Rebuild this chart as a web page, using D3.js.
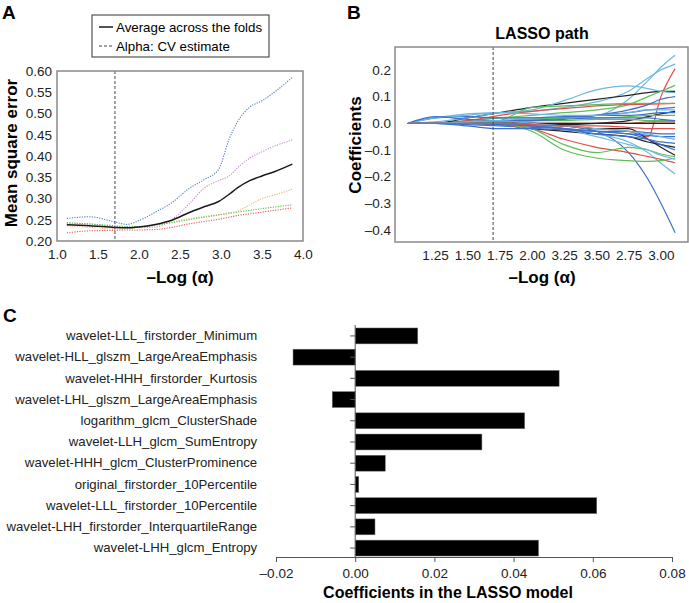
<!DOCTYPE html>
<html>
<head>
<meta charset="utf-8">
<script src="https://cdn.jsdelivr.net/npm/d3@7"></script>
<style>
  body { margin: 0; background: #fff; }
  svg { display: block; font-family: "Liberation Sans", Arial, sans-serif; }
</style>
</head>
<body>
<svg id="chart" width="689" height="603"></svg>
<script>
// ---- panel A: cross-validation error per fold ----
const aX = [1.12, 1.4, 1.7, 1.85, 2.0, 2.2, 2.4, 2.6, 2.8, 2.97, 3.1, 3.2, 3.35, 3.5, 3.65, 3.87];
const aMean   = [0.238, 0.236, 0.232, 0.231, 0.233, 0.239, 0.249, 0.266, 0.281, 0.293, 0.31, 0.325, 0.342, 0.353, 0.363, 0.381];
const aBlue   = [0.253, 0.257, 0.245, 0.239, 0.248, 0.268, 0.29, 0.322, 0.345, 0.368, 0.44, 0.48, 0.515, 0.53, 0.55, 0.585];
const aPurple = [0.242, 0.24, 0.234, 0.232, 0.232, 0.233, 0.25, 0.285, 0.325, 0.342, 0.353, 0.372, 0.395, 0.41, 0.423, 0.438];
const aOrange = [0.236, 0.232, 0.228, 0.229, 0.232, 0.237, 0.245, 0.252, 0.258, 0.262, 0.266, 0.27, 0.285, 0.3, 0.308, 0.322];
const aGreen  = [0.243, 0.24, 0.236, 0.234, 0.234, 0.238, 0.243, 0.25, 0.256, 0.261, 0.265, 0.268, 0.272, 0.276, 0.28, 0.285];
const aRed    = [0.219, 0.224, 0.225, 0.226, 0.226, 0.227, 0.232, 0.24, 0.246, 0.251, 0.256, 0.26, 0.264, 0.268, 0.272, 0.278];
const aFolds = [aBlue, aPurple, aOrange, aGreen, aRed];
const aFoldColors = ["#4f78cf", "#c58ad0", "#f0b46c", "#5cbf4f", "#e2605a"];
const aAlpha = 1.707;
const aYTicks = [0.2, 0.25, 0.3, 0.35, 0.4, 0.45, 0.5, 0.55, 0.6];
const aXTicks = [1.0, 1.5, 2.0, 2.5, 3.0, 3.5, 4.0];

// ---- panel B: LASSO coefficient paths ----
const bX = [1.04, 1.25, 1.5, 1.75, 2.0, 2.25, 2.5, 2.75, 2.9, 3.0, 3.11];
const bTicks = [1.25, 1.5, 1.75, 2.0, 2.25, 2.5, 2.75, 3.0];
const bTickLabels = ["1.25", "1.50", "1.75", "2.00", "3.25", "3.50", "2.75", "3.00"];
const bYTicks = [0.2, 0.1, 0.0, -0.1, -0.2, -0.3, -0.4];
const bAlpha = 1.70;
const bColors = [
  "#6bb8e0", "#6bb8e0", "#e0504a", "#5cbf5c", "#222222", "#6bb8e0", "#e0504a", "#5cbf5c",
  "#3d6fcc", "#3d6fcc", "#222222", "#3d6fcc", "#5cbf5c", "#5cbf5c", "#e0504a", "#222222",
  "#222222", "#222222", "#3d6fcc", "#3d6fcc", "#6bb8e0", "#e0504a", "#5cbf5c", "#5cbf5c",
  "#6bb8e0", "#3d6fcc", "#6bb8e0", "#3d6fcc", "#3d6fcc", "#3d6fcc", "#6bb8e0", "#e0504a"
];
const bPaths = [
  [0, 0, 0.01, 0.02, 0.02, 0.025, 0.03, 0.09, 0.16, 0.21, 0.255],
  [0, 0.02, 0.035, 0.04, 0.045, 0.06, 0.08, 0.12, 0.17, 0.2, 0.222],
  [0, 0, 0, -0.005, -0.01, -0.01, -0.02, -0.03, -0.05, 0.1, 0.205],
  [0, 0, 0.01, 0.02, 0.03, 0.04, 0.05, 0.07, 0.1, 0.12, 0.142],
  [0, 0, 0.02, 0.04, 0.06, 0.075, 0.09, 0.105, 0.115, 0.12, 0.12],
  [0, 0.005, 0.02, 0.04, 0.05, 0.085, 0.125, 0.14, 0.13, 0.12, 0.115],
  [0, 0, 0.01, 0.03, 0.045, 0.055, 0.065, 0.07, 0.072, 0.073, 0.075],
  [0, 0, 0, 0.01, 0.06, 0.065, 0.07, 0.075, 0.075, 0.075, 0.075],
  [0, 0, 0, 0.005, 0.01, 0.02, 0.03, 0.05, 0.07, 0.09, 0.1],
  [0, 0, 0.005, 0.01, 0.015, 0.02, 0.03, 0.04, 0.05, 0.055, 0.06],
  [0, 0, 0, 0, 0, -0.005, 0, 0.01, 0.025, 0.035, 0.045],
  [0, 0.02, 0.025, 0.02, 0.02, 0.025, 0.03, 0.03, 0.035, 0.04, 0.04],
  [0, 0, 0.005, 0.01, 0.015, 0.02, 0.02, 0.025, 0.03, 0.03, 0.03],
  [0, 0, 0, 0.005, 0.01, 0.01, 0.015, 0.015, 0.01, 0.01, 0.01],
  [0, 0, 0, 0, 0, 0, 0, 0, 0.005, 0.005, 0.005],
  [0, 0, 0, 0, 0, 0, 0, 0, 0, 0, 0],
  [0, 0, 0, 0, 0, -0.01, -0.02, -0.02, -0.06, -0.09, -0.12],
  [0, 0, 0, -0.005, -0.02, -0.03, -0.04, -0.05, -0.07, -0.08, -0.09],
  [0, 0, -0.005, -0.01, -0.015, -0.02, -0.03, -0.04, -0.06, -0.08, -0.1],
  [0, 0, 0, 0, -0.005, -0.01, -0.03, -0.11, -0.21, -0.3, -0.41],
  [0, 0, 0, -0.005, -0.01, -0.02, -0.04, -0.07, -0.11, -0.15, -0.19],
  [0, 0, 0, -0.005, -0.02, -0.06, -0.09, -0.11, -0.125, -0.135, -0.148],
  [0, 0, 0, 0, -0.03, -0.1, -0.13, -0.14, -0.143, -0.14, -0.13],
  [0, 0, 0, 0, -0.02, -0.08, -0.11, -0.09, -0.1, -0.115, -0.125],
  [0, 0, 0, 0, -0.005, -0.02, -0.05, -0.08, -0.1, -0.12, -0.135],
  [0, 0, -0.01, -0.02, -0.02, -0.025, -0.03, -0.03, -0.035, -0.04, -0.04],
  [0, 0.02, 0.03, 0.04, 0.035, 0.03, 0.03, 0.04, 0.05, 0.05, 0.05],
  [0, 0.025, 0.015, 0.01, 0.01, 0.015, 0.02, 0.02, 0.02, 0.015, 0.01],
  [0, 0, 0, -0.005, -0.01, -0.02, -0.03, -0.04, -0.045, -0.05, -0.05],
  [0, 0, 0, 0, -0.01, -0.02, -0.04, -0.05, -0.06, -0.07, -0.075],
  [0, 0, 0.005, 0.01, 0.0, -0.01, -0.02, -0.03, -0.04, -0.05, -0.06],
  [0, 0, 0, 0, -0.005, -0.01, -0.01, -0.015, -0.02, -0.02, -0.02]
];

// ---- panel C: selected features ----
const cFeatures = [
  "wavelet-LLL_firstorder_Minimum",
  "wavelet-HLL_glszm_LargeAreaEmphasis",
  "wavelet-HHH_firstorder_Kurtosis",
  "wavelet-LHL_glszm_LargeAreaEmphasis",
  "logarithm_glcm_ClusterShade",
  "wavelet-LLH_glcm_SumEntropy",
  "wavelet-HHH_glcm_ClusterProminence",
  "original_firstorder_10Percentile",
  "wavelet-LLL_firstorder_10Percentile",
  "wavelet-LHH_firstorder_InterquartileRange",
  "wavelet-LHH_glcm_Entropy"
];
const cCoefs = [0.0158, -0.0157, 0.0515, -0.0058, 0.0428, 0.032, 0.0076, 0.0009, 0.061, 0.005, 0.0463];
const cTicks = [-0.02, 0.0, 0.02, 0.04, 0.06, 0.08];

const svg = d3.select("#chart");
const tickColor = "#222";
const frameColor = "#8a8a8a";

const styleTicks = (g, size) => {
  g.selectAll("text").attr("font-size", size).attr("fill", tickColor);
};

// panel letters
[["A", 2, 19], ["B", 347, 19], ["C", 3, 322]].forEach(([t, x, y]) => {
  svg.append("text").attr("x", x).attr("y", y).attr("font-size", 19)
    .attr("font-weight", "bold").text(t);
});

// ================= Panel A =================
{
  const left = 57, right = 303, top = 71, bottom = 241;
  const x = d3.scaleLinear().domain([1, 4]).range([left, right]);
  const y = d3.scaleLinear().domain([0.2, 0.6]).range([bottom, top]);
  const g = svg.append("g");

  g.append("g").attr("transform", `translate(${left},0)`)
    .call(d3.axisLeft(y).tickValues(aYTicks).tickSize(0).tickPadding(5).tickFormat(d3.format(".2f")))
    .call(a => a.select(".domain").remove())
    .call(a => styleTicks(a, 13.5));
  g.append("g").attr("transform", `translate(0,${bottom})`)
    .call(d3.axisBottom(x).tickValues(aXTicks).tickSize(0).tickPadding(8).tickFormat(d3.format(".1f")))
    .call(a => a.select(".domain").remove())
    .call(a => styleTicks(a, 13.5));

  const line = d3.line().x((d, i) => x(aX[i])).y(d => y(d)).curve(d3.curveMonotoneX);
  aFolds.forEach((s, k) => {
    g.append("path").attr("d", line(s)).attr("fill", "none")
      .attr("stroke", aFoldColors[k]).attr("stroke-width", 1.1).attr("stroke-dasharray", "1.2,1.3");
  });
  g.append("path").attr("d", line(aMean)).attr("fill", "none")
    .attr("stroke", "#1a1a1a").attr("stroke-width", 1.5);

  g.append("line").attr("x1", x(aAlpha)).attr("x2", x(aAlpha)).attr("y1", top).attr("y2", bottom)
    .attr("stroke", "#444").attr("stroke-width", 1).attr("stroke-dasharray", "3,2");

  g.append("rect").attr("x", left).attr("y", top).attr("width", right - left).attr("height", bottom - top)
    .attr("fill", "none").attr("stroke", frameColor).attr("stroke-width", 1.5);

  g.append("text").attr("x", (left + right) / 2).attr("y", 283).attr("text-anchor", "middle")
    .attr("font-size", 17).attr("font-weight", "bold").text("\u2013Log (\u03b1)");
  g.append("text").attr("transform", `translate(17,${(top + bottom) / 2 - 3}) rotate(-90)`)
    .attr("text-anchor", "middle").attr("font-size", 17).attr("font-weight", "bold").text("Mean square error");

  // legend
  const lg = g.append("g");
  lg.append("rect").attr("x", 92).attr("y", 15).attr("width", 177).attr("height", 42)
    .attr("fill", "#fff").attr("stroke", "#333").attr("stroke-width", 1);
  lg.append("line").attr("x1", 99).attr("x2", 113).attr("y1", 27).attr("y2", 27)
    .attr("stroke", "#1a1a1a").attr("stroke-width", 1.5);
  lg.append("line").attr("x1", 99).attr("x2", 113).attr("y1", 46).attr("y2", 46)
    .attr("stroke", "#444").attr("stroke-width", 1).attr("stroke-dasharray", "3,2");
  lg.append("text").attr("x", 116).attr("y", 32).attr("font-size", 13.3).text("Average across the folds");
  lg.append("text").attr("x", 116).attr("y", 51).attr("font-size", 13.3).text("Alpha: CV estimate");
}

// ================= Panel B =================
{
  const left = 395, right = 688, top = 47, bottom = 242;
  const x = d3.scaleLinear().domain([0.94, 3.21]).range([left, right]);
  const y = d3.scaleLinear().domain([-0.445, 0.286]).range([bottom, top]);
  const g = svg.append("g");

  g.append("g").attr("transform", `translate(${left},0)`)
    .call(d3.axisLeft(y).tickValues(bYTicks).tickSize(0).tickPadding(4)
      .tickFormat(d => (d < 0 ? "\u2013" : "") + d3.format(".1f")(Math.abs(d))))
    .call(a => a.select(".domain").remove())
    .call(a => styleTicks(a, 13.5));
  g.append("g").attr("transform", `translate(0,${bottom})`)
    .call(d3.axisBottom(x).tickValues(bTicks).tickSize(0).tickPadding(8)
      .tickFormat((d, i) => bTickLabels[i]))
    .call(a => a.select(".domain").remove())
    .call(a => styleTicks(a, 13.5));

  const line = d3.line().x((d, i) => x(bX[i])).y(d => y(d)).curve(d3.curveMonotoneX);
  g.append("g").selectAll("path").data(bPaths).join("path")
    .attr("d", d => line(d)).attr("fill", "none")
    .attr("stroke", (d, i) => bColors[i]).attr("stroke-width", 1.2);

  g.append("line").attr("x1", x(bAlpha)).attr("x2", x(bAlpha)).attr("y1", top).attr("y2", bottom)
    .attr("stroke", "#444").attr("stroke-width", 1).attr("stroke-dasharray", "3,2");

  g.append("rect").attr("x", left).attr("y", top).attr("width", right - left).attr("height", bottom - top)
    .attr("fill", "none").attr("stroke", frameColor).attr("stroke-width", 1.5);

  g.append("text").attr("x", 542).attr("y", 39).attr("text-anchor", "middle")
    .attr("font-size", 16).attr("font-weight", "bold").text("LASSO path");
  g.append("text").attr("x", 542).attr("y", 283).attr("text-anchor", "middle")
    .attr("font-size", 17).attr("font-weight", "bold").text("\u2013Log (\u03b1)");
  g.append("text").attr("transform", `translate(361,145) rotate(-90)`)
    .attr("text-anchor", "middle").attr("font-size", 17).attr("font-weight", "bold").text("Coefficients");
}

// ================= Panel C =================
{
  const left = 276, right = 672, top = 325, bottom = 557;
  const x = d3.scaleLinear().domain([-0.02, 0.08]).range([left, right]);
  const y = d3.scaleBand().domain(cFeatures).range([top, bottom + 2]).paddingInner(0.25).paddingOuter(0.14);
  const g = svg.append("g");

  g.append("g").selectAll("rect").data(cCoefs).join("rect")
    .attr("x", d => x(Math.min(0, d)))
    .attr("y", (d, i) => y(cFeatures[i]))
    .attr("width", d => Math.abs(x(d) - x(0)))
    .attr("height", y.bandwidth())
    .attr("fill", "#000").attr("stroke", "#777").attr("stroke-width", 0.5);

  g.append("g").attr("transform", `translate(0,${bottom})`)
    .call(d3.axisBottom(x).tickValues(cTicks).tickSize(5).tickPadding(6).tickSizeOuter(0)
      .tickFormat(d => (d < 0 ? "\u2013" : "") + d3.format(".2f")(Math.abs(d))))
    .call(a => a.selectAll("line,path").attr("stroke", "#555"))
    .call(a => styleTicks(a, 13.5));

  g.append("g").attr("transform", `translate(${x(0)},0)`)
    .call(d3.axisLeft(y).tickSize(5).tickPadding(93).tickSizeOuter(0))
    .call(a => a.select(".domain").attr("d", `M0,${top}V${bottom}`))
    .call(a => a.selectAll("line,path").attr("stroke", "#555"))
    .call(a => styleTicks(a, 13.2));

  g.append("text").attr("x", 448).attr("y", 598).attr("text-anchor", "middle")
    .attr("font-size", 16).attr("font-weight", "bold").text("Coefficients in the LASSO model");
}
</script>
</body>
</html>
